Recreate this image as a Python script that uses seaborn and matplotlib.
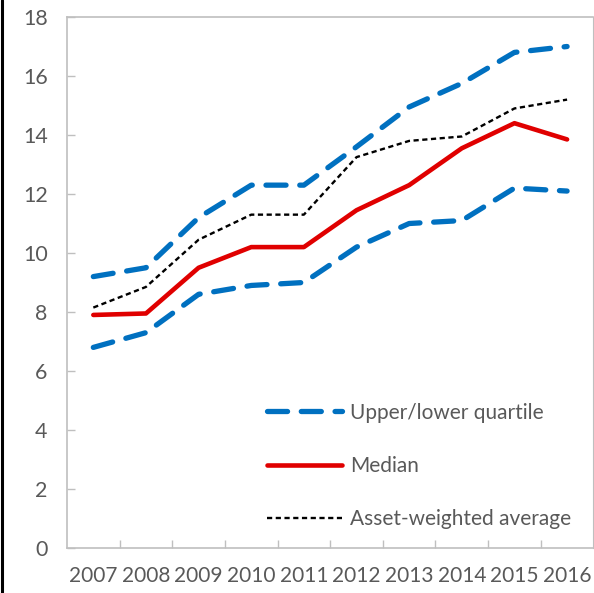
import matplotlib
matplotlib.use("Agg")
import matplotlib.pyplot as plt
from matplotlib.lines import Line2D
import seaborn as sns
import pandas as pd

years = ["2007", "2008", "2009", "2010", "2011", "2012", "2013", "2014", "2015", "2016"]
upper = [9.2, 9.5, 11.2, 12.3, 12.3, 13.6, 14.95, 15.75, 16.8, 17.0]
median = [7.9, 7.95, 9.5, 10.2, 10.2, 11.45, 12.3, 13.55, 14.4, 13.85]
lower = [6.8, 7.3, 8.6, 8.9, 9.0, 10.2, 11.0, 11.1, 12.2, 12.1]
asset_w = [8.15, 8.85, 10.45, 11.3, 11.3, 13.25, 13.8, 13.95, 14.9, 15.2]

sns.set_style("white")
plt.rcParams['font.family'] = ['Lato', 'DejaVu Sans']

gray = "#595959"
fig = plt.figure(figsize=(5.94, 5.93), dpi=100)
ax = fig.add_axes([67/594, 45/593, 1 - 67/594 - 0.001, (548 - 17)/593])

x = list(range(len(years)))
df = pd.DataFrame({"x": x, "upper": upper, "median": median, "lower": lower, "asset": asset_w})

blue = "#0070C0"
red = "#E00000"

sns.lineplot(data=df, x="x", y="upper", ax=ax, color=blue, lw=3.8, label="Upper/lower quartile")
sns.lineplot(data=df, x="x", y="lower", ax=ax, color=blue, lw=3.8, label="_nolegend_")
sns.lineplot(data=df, x="x", y="median", ax=ax, color=red, lw=3.3, label="Median")
sns.lineplot(data=df, x="x", y="asset", ax=ax, color="black", lw=1.7, label="Asset-weighted average")

lines = ax.get_lines()
for ln in lines[:2]:
    ln.set_dashes([3.8, 2.6])
    ln.set_dash_capstyle("round")
lines[3].set_dashes([2.2, 1.5])
lines[3].set_dash_capstyle("butt")

ax.set_xlim(-0.5, 9.5)
ax.set_ylim(0, 18)
ax.set_yticks(range(0, 19, 2))
ax.set_xticks(x)
ax.set_xticklabels(years)
ax.set_xticks([i + 0.5 for i in range(9)], minor=True)
ax.tick_params(axis="x", which="major", length=0, pad=13, labelsize=15.0, labelcolor=gray)
ax.tick_params(axis="x", which="minor", direction="in", length=6, color="#BFBFBF", width=1, bottom=True)
ax.tick_params(axis="y", direction="in", length=6, color="#BFBFBF", width=1, left=True,
               pad=14, labelsize=15.4, labelcolor=gray)
ax.set_xlabel("")
ax.set_ylabel("")
for s in ["left", "bottom", "top"]:
    ax.spines[s].set_color("#BFBFBF")
    ax.spines[s].set_linewidth(1.2)
ax.spines["right"].set_color("#BFBFBF")

leg = ax.legend(loc="lower left", bbox_to_anchor=(0.345, 0.0), frameon=False,
                handlelength=3.6, handletextpad=0.35, labelspacing=1.6, fontsize=15)
for t in leg.get_texts():
    t.set_color(gray)

fig.add_artist(Line2D([0.004, 0.004], [0, 1], transform=fig.transFigure, color="black", lw=2.2))

fig.savefig("out.png", dpi=100)
